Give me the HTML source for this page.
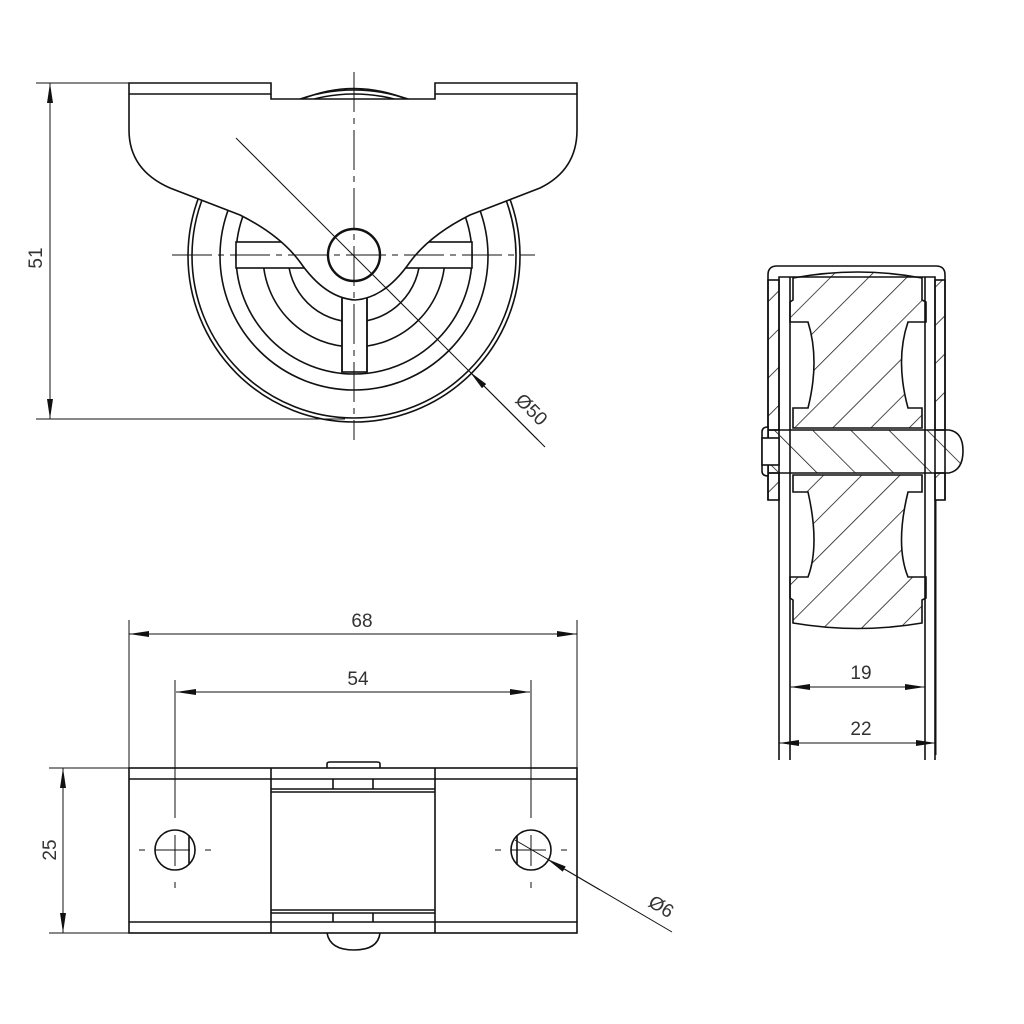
<!DOCTYPE html>
<html><head><meta charset="utf-8"><style>
html,body{margin:0;padding:0;background:#fff}
svg{display:block}
text{font-family:"Liberation Sans Narrow","Liberation Sans",sans-serif;fill:#333;font-size:19px}
</style></head><body>
<svg width="1024" height="1024" viewBox="0 0 1024 1024" xmlns="http://www.w3.org/2000/svg">
<defs>
<marker id="a" viewBox="0 0 20 6" refX="20" refY="3" markerWidth="20" markerHeight="6" markerUnits="userSpaceOnUse" orient="auto-start-reverse"><path d="M0,0L20,3L0,6z" fill="#111"/></marker>
<pattern id="h" patternUnits="userSpaceOnUse" width="27" height="27" patternTransform="rotate(45)"><line x1="0" y1="0" x2="0" y2="27" stroke="#111" stroke-width="1.5"/></pattern>
<pattern id="h2" patternUnits="userSpaceOnUse" width="27" height="27" patternTransform="rotate(-45)"><line x1="0" y1="0" x2="0" y2="27" stroke="#111" stroke-width="1.5"/></pattern>
<clipPath id="lowhalf"><rect x="0" y="268" width="1024" height="300"/></clipPath>
</defs>
<g fill="none" stroke="#111" stroke-width="1.6">
<!-- TOP VIEW wheel -->
<circle cx="354" cy="256" r="166"/>
<circle cx="354" cy="256" r="162"/>
<circle cx="354" cy="256" r="134"/>
<circle cx="354" cy="256" r="118"/>
<g clip-path="url(#lowhalf)">
<circle cx="354" cy="256" r="91"/>
<circle cx="354" cy="256" r="66"/>
</g>
<rect x="236" y="242" width="236" height="26" fill="#fff"/>
<rect x="342" y="268" width="25" height="104" fill="#fff"/>
<path d="M342,268 V372 M367,268 V372" />
<!-- bracket -->
<path d="M129,83 H271 V99 H435 V83 H577 V130 Q577,170 540,188 L470,215 Q430,235 410,262 Q385,298 355,300 Q325,298 300,262 Q280,235 240,215 L170,188 Q129,170 129,130 Z" fill="#fff"/>
<path d="M129,94 H271 M435,94 H577"/>
<path d="M302,99 Q354,78 406,99"/>
<circle cx="354" cy="255" r="26" stroke-width="2.4" fill="#fff"/>
</g>
<!-- centerlines top view -->
<g stroke="#111" stroke-width="1" fill="none">
<path d="M354,72 V440" stroke-dasharray="40,6,6,6"/>
<path d="M172,255 H535" stroke-dasharray="40,6,6,6"/>
<path d="M236,138 L545,447"/>
<path d="M538,440 L470,372" marker-end="url(#a)"/>
<path d="M36,83 H129 M36,419 H345"/>
<path d="M50,251 V83" marker-end="url(#a)"/><path d="M50,251 V419" marker-end="url(#a)"/>
</g>
<text transform="translate(42,258) rotate(-90)" text-anchor="middle">51</text>
<text transform="translate(527,414) rotate(45)" text-anchor="middle">Ø50</text>

<!-- SIDE VIEW -->
<g stroke="#111" stroke-width="1.6" fill="none">
<path d="M768,500 V275 Q768,266 777,266 H936 Q945,266 945,275 V500"/>
<path d="M779,500 V277 H935 V500"/>
<rect x="768" y="280" width="11" height="150" fill="url(#h)"/>
<rect x="935" y="280" width="10" height="150" fill="url(#h)"/>
<rect x="768" y="473" width="11" height="27" fill="url(#h)"/>
<rect x="935" y="473" width="10" height="27" fill="url(#h)"/>
<path d="M779,500 V760 M790,277 V760 M925,277 V760 M935,500 V760"/>
<path d="M793,278 Q858,266 922,278 V300 L926,302 V322 H908 Q895,360 908,408 H922 V428 H793 V408 H808 Q820,360 808,322 H790 V302 L793,300 Z" fill="url(#h)"/>
<path d="M793,475 H922 V492 H908 Q895,545 908,577 H926 V598 L922,600 V623 Q858,634 793,623 V600 L790,598 V577 H808 Q820,545 808,492 H793 Z" fill="url(#h)"/>
<path d="M768,430 H949 Q963,432 963,451 Q963,470 949,473 H768 Z" fill="url(#h2)"/>
<path d="M768,427 Q762,427 762,432 V471 Q762,476 768,476 Z" fill="#fff"/>
<rect x="762" y="438" width="17" height="27" fill="#fff"/>
</g>
<g stroke="#111" stroke-width="1" fill="none">
<path d="M790,687 H925" marker-start="url(#a)" marker-end="url(#a)"/>
<path d="M779,743 H936" marker-start="url(#a)" marker-end="url(#a)"/>
<path d="M936,500 V755"/>
</g>
<text x="861" y="679" text-anchor="middle">19</text>
<text x="861" y="735" text-anchor="middle">22</text>

<!-- BOTTOM VIEW -->
<g stroke="#111" stroke-width="1.6" fill="none">
<rect x="129" y="768" width="448" height="165"/>
<path d="M129,779 H577 M129,922 H577 M271,768 V933 M435,768 V933"/>
<path d="M271,789 H435 M271,792 H435 M333,779 V789 M373,779 V789"/>
<path d="M271,910 H435 M271,913 H435 M333,913 V922 M373,913 V922"/>
<path d="M327,768 V764 Q327,762 330,762 H377 Q380,762 380,764 V768"/>
<path d="M327,933 Q330,950 354,950 Q378,950 380,933"/>
<circle cx="175" cy="850" r="20"/>
<circle cx="531" cy="850" r="20"/>
<path d="M189,836 V864 M517,836 V864"/>
</g>
<g stroke="#111" stroke-width="1" fill="none">
<path d="M155,850 H190 M175,835 V866 M511,850 H546 M531,835 V866"/>
<path d="M139,850 H145 M205,850 H211 M495,850 H501 M561,850 H567 M175,882 V888 M531,882 V888"/>
<path d="M175,680 V818 M531,680 V818 M129,620 V768 M577,620 V768"/>
<path d="M129,634 H577" marker-start="url(#a)" marker-end="url(#a)"/>
<path d="M176,692 H530" marker-start="url(#a)" marker-end="url(#a)"/>
<path d="M49,768 H129 M49,933 H129"/>
<path d="M63,850 V768" marker-end="url(#a)"/><path d="M63,850 V933" marker-end="url(#a)"/>
<path d="M672,932 L515,840"/>
<path d="M600,890 L547,859" marker-end="url(#a)"/>
</g>
<text x="362" y="627" text-anchor="middle">68</text>
<text x="358" y="685" text-anchor="middle">54</text>
<text transform="translate(56,850) rotate(-90)" text-anchor="middle">25</text>
<text transform="translate(658,912) rotate(31)" text-anchor="middle">Ø6</text>
</svg>
</body></html>
